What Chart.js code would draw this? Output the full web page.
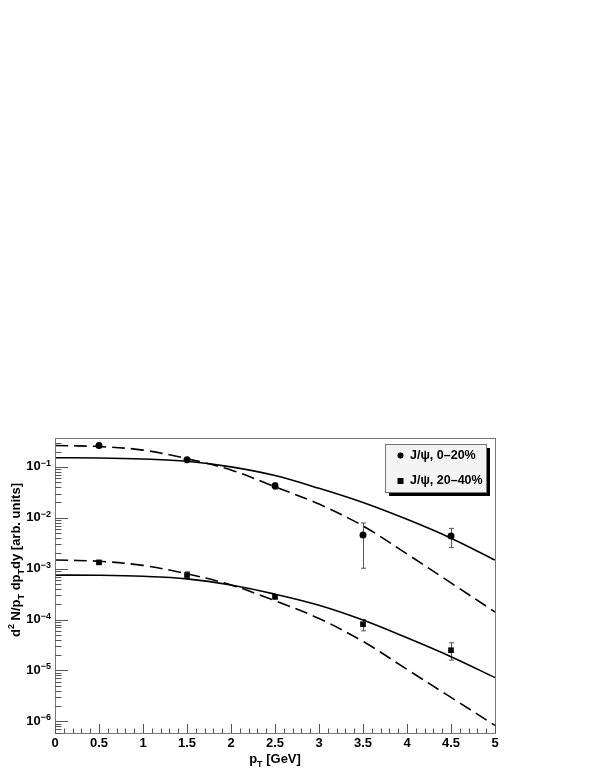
<!DOCTYPE html>
<html>
<head>
<meta charset="utf-8">
<script src="https://cdn.jsdelivr.net/npm/chart.js@4/dist/chart.umd.min.js"></script>
<style>
  html, body { margin: 0; padding: 0; background: #fff; }
  #wrap { width: 595px; height: 770px; position: relative; }
</style>
</head>
<body>
<div id="wrap"><canvas id="spectrum"></canvas></div>
<script>
// --- data ---
const curveX = [0, 0.5, 1, 1.5, 2, 2.5, 3, 3.5, 4, 4.5, 5];
// 0-20% centrality fits
const centralSolid  = [0.151, 0.150, 0.143, 0.129, 0.100, 0.0676, 0.0380, 0.0200, 0.00933, 0.00398, 0.00148];
const centralDashed = [0.264, 0.251, 0.214, 0.145, 0.0871, 0.0407, 0.0186, 0.00692, 0.00195, 0.000525, 0.000141];
// 20-40% centrality fits
const periphSolid  = [7.48e-4, 7.41e-4, 7.08e-4, 6.31e-4, 4.79e-4, 3.16e-4, 1.91e-4, 9.77e-5, 4.37e-5, 1.86e-5, 7.24e-6];
const periphDashed = [1.48e-3, 1.40e-3, 1.16e-3, 7.94e-4, 4.79e-4, 2.34e-4, 1.05e-4, 3.72e-5, 1.05e-5, 2.95e-6, 8.32e-7];

// measured points
const pointX = [0.5, 1.5, 2.5, 3.5, 4.5];
const centralY  = [0.263, 0.138, 0.0427, 0.00457, 0.00437];
const centralLo = [0.256, 0.132, 0.0365, 0.00102, 0.0026];
const centralHi = [0.270, 0.144, 0.0480, 0.0079, 0.0062];
const periphY  = [1.33e-3, 7.5e-4, 2.8e-4, 8.1e-5, 2.5e-5];
const periphLo = [1.29e-3, 6.4e-4, 2.55e-4, 6.0e-5, 1.6e-5];
const periphHi = [1.37e-3, 8.7e-4, 3.05e-4, 1.0e-4, 3.5e-5];

const legendLabels = ['J/\u03c8, 0\u201320%', 'J/\u03c8, 20\u201340%'];
const xTickLabels = ['0', '0.5', '1', '1.5', '2', '2.5', '3', '3.5', '4', '4.5', '5'];
const yDecades = [-1, -2, -3, -4, -5, -6];

const FONT = '"Liberation Sans", Arial, Helvetica, sans-serif';

function toXY(xs, ys) {
    return xs.map((x, i) => ({ x: x, y: ys[i] }));
}

function curve(data, dashed) {
    return {
        data: data,
        showLine: true,
        borderColor: '#000',
        borderWidth: 1.6,
        borderDash: dashed ? [13, 6] : [],
        pointRadius: 0,
        tension: 0.35,
        fill: false
    };
}

// error bars under the markers
const errorBars = {
    id: 'errorBars',
    beforeDatasetsDraw(chart) {
        const ctx = chart.ctx, xs = chart.scales.x, ys = chart.scales.y;
        ctx.save();
        ctx.strokeStyle = '#555';
        ctx.lineWidth = 1;
        [[centralLo, centralHi], [periphLo, periphHi]].forEach(([lo, hi]) => {
            pointX.forEach((x, i) => {
                const px = Math.round(xs.getPixelForValue(x)) + 0.5;
                const y1 = ys.getPixelForValue(lo[i]);
                const y2 = ys.getPixelForValue(hi[i]);
                ctx.beginPath();
                ctx.moveTo(px, y1); ctx.lineTo(px, y2);
                ctx.moveTo(px - 2.5, y1); ctx.lineTo(px + 2.5, y1);
                ctx.moveTo(px - 2.5, y2); ctx.lineTo(px + 2.5, y2);
                ctx.stroke();
            });
        });
        ctx.restore();
    }
};

// ROOT-style frame, inward ticks, labels and legend
const rootFrame = {
    id: 'rootFrame',
    afterDraw(chart) {
        const ctx = chart.ctx, xs = chart.scales.x, ys = chart.scales.y;
        const a = chart.chartArea;
        ctx.save();
        ctx.strokeStyle = '#777';
        ctx.lineWidth = 1;
        ctx.strokeRect(Math.round(a.left) + 0.5, Math.round(a.top) + 0.5,
            Math.round(a.right - a.left), Math.round(a.bottom - a.top));

        // x ticks every 0.1, long ones every 0.5
        ctx.strokeStyle = '#555';
        ctx.beginPath();
        for (let i = 0; i <= 50; i++) {
            const px = Math.round(xs.getPixelForValue(i / 10)) + 0.5;
            const len = i % 5 === 0 ? 9 : 4.5;
            ctx.moveTo(px, a.bottom);
            ctx.lineTo(px, a.bottom - len);
        }
        // y log ticks
        for (let d = -7; d <= 0; d++) {
            for (let k = 1; k <= 9; k++) {
                const v = k * Math.pow(10, d);
                if (v < ys.min || v > ys.max) continue;
                const py = Math.round(ys.getPixelForValue(v)) + 0.5;
                const len = k === 1 ? 13 : 6.5;
                ctx.moveTo(a.left, py);
                ctx.lineTo(a.left + len, py);
            }
        }
        ctx.stroke();

        // tick labels
        ctx.fillStyle = '#000';
        ctx.font = 'bold 13px ' + FONT;
        ctx.textAlign = 'center';
        ctx.textBaseline = 'top';
        xTickLabels.forEach(t => {
            ctx.fillText(t, xs.getPixelForValue(parseFloat(t)), a.bottom + 4);
        });
        yDecades.forEach(d => {
            const py = ys.getPixelForValue(Math.pow(10, d));
            const sup = '\u2212' + (-d);
            ctx.font = 'bold 9px ' + FONT;
            const sw = ctx.measureText(sup).width;
            ctx.textAlign = 'right';
            ctx.textBaseline = 'alphabetic';
            ctx.fillText(sup, a.left - 4, py - 1);
            ctx.font = 'bold 13px ' + FONT;
            ctx.textBaseline = 'middle';
            ctx.fillText('10', a.left - 4 - sw, py);
        });

        // axis titles
        ctx.font = 'bold 13px ' + FONT;
        ctx.textBaseline = 'alphabetic';
        ctx.textAlign = 'left';
        const xt = [['p', 13, 0], ['T', 9, 4], [' [GeV]', 13, 0]];
        drawRich(ctx, xt, (a.left + a.right) / 2, a.bottom + 30, 0);
        const yt = [['d', 13, 0], ['2', 9, -6], [' N/p', 13, 0], ['T', 9, 4], [' dp', 13, 0],
                    ['T', 9, 4], ['dy [arb. units]', 13, 0]];
        drawRich(ctx, yt, 20, 560, -Math.PI / 2);

        // legend box with shadow
        const lx = 385, ly = 444, lw = 101, lh = 48;
        ctx.fillStyle = '#000';
        ctx.fillRect(lx + 4, ly + 4, lw, lh);
        ctx.fillStyle = '#f4f4f4';
        ctx.fillRect(lx, ly, lw, lh);
        ctx.strokeStyle = '#777';
        ctx.strokeRect(lx + 0.5, ly + 0.5, lw, lh);
        ctx.fillStyle = '#000';
        ctx.beginPath();
        ctx.arc(400.5, 455.5, 3, 0, 2 * Math.PI);
        ctx.fill();
        ctx.fillRect(397.5, 478, 6, 6);
        ctx.font = 'bold 12.5px ' + FONT;
        ctx.textAlign = 'left';
        ctx.textBaseline = 'middle';
        ctx.fillText(legendLabels[0], 410, 456);
        ctx.fillText(legendLabels[1], 410, 481);
        ctx.restore();
    }
};

// draws text pieces with sub/superscripts centred on (cx, cy)
function drawRich(ctx, parts, cx, cy, rot) {
    let total = 0;
    parts.forEach(p => { ctx.font = 'bold ' + p[1] + 'px ' + FONT; total += ctx.measureText(p[0]).width; });
    ctx.save();
    ctx.translate(cx, cy);
    ctx.rotate(rot);
    let x = -total / 2;
    parts.forEach(p => {
        ctx.font = 'bold ' + p[1] + 'px ' + FONT;
        ctx.fillText(p[0], x, p[2]);
        x += ctx.measureText(p[0]).width;
    });
    ctx.restore();
}

window.onload = function() {
    const ctx = document.getElementById('spectrum').getContext('2d');
    new Chart(ctx, {
        type: 'scatter',
        data: {
            datasets: [
                curve(toXY(curveX, centralSolid), false),
                curve(toXY(curveX, centralDashed), true),
                curve(toXY(curveX, periphSolid), false),
                curve(toXY(curveX, periphDashed), true),
                {
                    data: toXY(pointX, centralY),
                    pointStyle: 'circle', pointRadius: 3.5,
                    backgroundColor: '#000', borderColor: '#000', borderWidth: 0
                },
                {
                    data: toXY(pointX, periphY),
                    pointStyle: 'rect', pointRadius: 4,
                    backgroundColor: '#000', borderColor: '#000', borderWidth: 0
                }
            ]
        },
        options: {
            responsive: true,
            maintainAspectRatio: false,
            animation: false,
            layout: { padding: { left: 0, right: 100, top: 438, bottom: 0 } },
            plugins: { legend: { display: false }, tooltip: { enabled: false } },
            scales: {
                x: {
                    type: 'linear', min: 0, max: 5,
                    grid: { display: false }, border: { display: false },
                    ticks: { display: false },
                    afterFit: s => { s.height = 37; }
                },
                y: {
                    type: 'logarithmic', min: 5.9e-7, max: 0.37,
                    grid: { display: false }, border: { display: false },
                    ticks: { display: false },
                    afterFit: s => { s.width = 55; }
                }
            }
        },
        plugins: [errorBars, rootFrame]
    });
};
</script>
</body>
</html>
